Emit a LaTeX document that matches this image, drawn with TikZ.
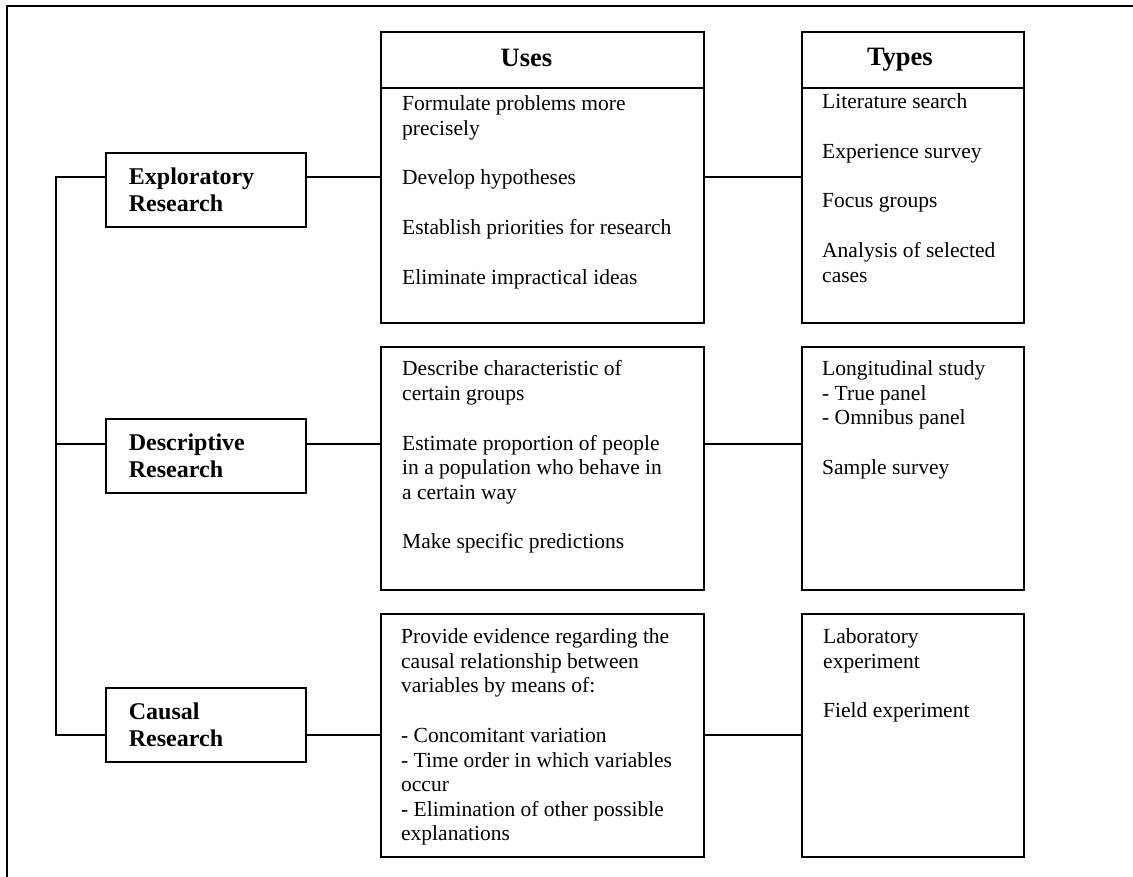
\documentclass[tikz,border=0pt]{standalone}
\usepackage{fontspec}
\setmainfont{Liberation Serif}
\usepackage{tikz}

\tikzset{
  cell/.style={draw, rectangle, line width=1.8pt, anchor=north west, inner sep=0pt},
  kind/.style={cell, minimum width=200pt, minimum height=74pt, text width=154pt, inner xsep=23pt, align=left, font=\fontsize{24}{27}\selectfont\bfseries},
  head/.style={anchor=base, inner sep=0pt, font=\fontsize{26.5}{30}\selectfont\bfseries},
  item/.style={anchor=north west, inner sep=0pt, align=left, font=\fontsize{21.5}{24.6}\selectfont},
  link/.style={line width=1.5pt}
}

\begin{document}
\begin{tikzpicture}[x=1pt, y=-1pt]
\useasboundingbox (0,0) rectangle (1133,877);
% Marco
\draw[line width=2pt] (7,877) -- (7,6) -- (1133,6);

% Tipos de investigacion
\node[kind] (exp) at (105,152) {Exploratory\\Research};
\node[kind] (des) at (105,418) {Descriptive\\Research};
\node[kind] (cau) at (105,687) {Causal\\Research};

% Cabeceras
\node[cell, minimum width=323pt, minimum height=56pt] (useshead) at (380,31) {};
\node[cell, minimum width=222pt, minimum height=56pt] (typeshead) at (801,31) {};
\node[head] (usestitle) at ([shift={(-16,7)}]useshead.center) {Uses};
\node[head] (typestitle) at ([shift={(-13,6)}]typeshead.center) {Types};

% Usos
\node[cell, minimum width=323pt, minimum height=235pt] (expuses) at (380,87) {};
\node[cell, minimum width=323pt, minimum height=243pt] (desuses) at (380,346) {};
\node[cell, minimum width=323pt, minimum height=243pt] (causes) at (380,613) {};

% Tipos
\node[cell, minimum width=222pt, minimum height=235pt] (exptypes) at (801,87) {};
\node[cell, minimum width=222pt, minimum height=243pt] (destypes) at (801,346) {};
\node[cell, minimum width=222pt, minimum height=243pt] (cautypes) at (801,613) {};

% Textos
\node[item] (expusestext) at ([shift={(22,8.5)}]expuses.north west) {Formulate problems more\\precisely\\[25pt]Develop hypotheses\\[25pt]Establish priorities for research\\[25pt]Eliminate impractical ideas};
\node[item] (exptypestext) at ([shift={(21,6.5)}]exptypes.north west) {Literature search\\[25pt]Experience survey\\[25pt]Focus groups\\[25pt]Analysis of selected\\cases};
\node[item] (desusestext) at ([shift={(22,14.5)}]desuses.north west) {Describe characteristic of\\certain groups\\[25pt]Estimate proportion of people\\in a population who behave in\\a certain way\\[25pt]Make specific predictions};
\node[item] (destypestext) at ([shift={(21,14.5)}]destypes.north west) {Longitudinal study\\- True panel\\- Omnibus panel\\[25pt]Sample survey};
\node[item] (causestext) at ([shift={(21,15.5)}]causes.north west) {Provide evidence regarding the\\causal relationship between\\variables by means of:\\[25pt]- Concomitant variation\\- Time order in which variables\\occur\\- Elimination of other possible\\explanations};
\node[item] (cautypestext) at ([shift={(22,15.5)}]cautypes.north west) {Laboratory\\experiment\\[25pt]Field experiment};

% Lineas
\coordinate (r1) at (56,177);
\coordinate (r2) at (56,444);
\coordinate (r3) at (56,735);
\draw[link] (r1 -| exp.west) -- (r1) -- (r3) -- (r3 -| cau.west);
\draw[link] (r2) -- (r2 -| des.west);
\draw[link] (r1 -| exp.east) -- (r1 -| expuses.west);
\draw[link] (r2 -| des.east) -- (r2 -| desuses.west);
\draw[link] (r3 -| cau.east) -- (r3 -| causes.west);
\draw[link] (r1 -| expuses.east) -- (r1 -| exptypes.west);
\draw[link] (r2 -| desuses.east) -- (r2 -| destypes.west);
\draw[link] (r3 -| causes.east) -- (r3 -| cautypes.west);
\end{tikzpicture}
\end{document}
